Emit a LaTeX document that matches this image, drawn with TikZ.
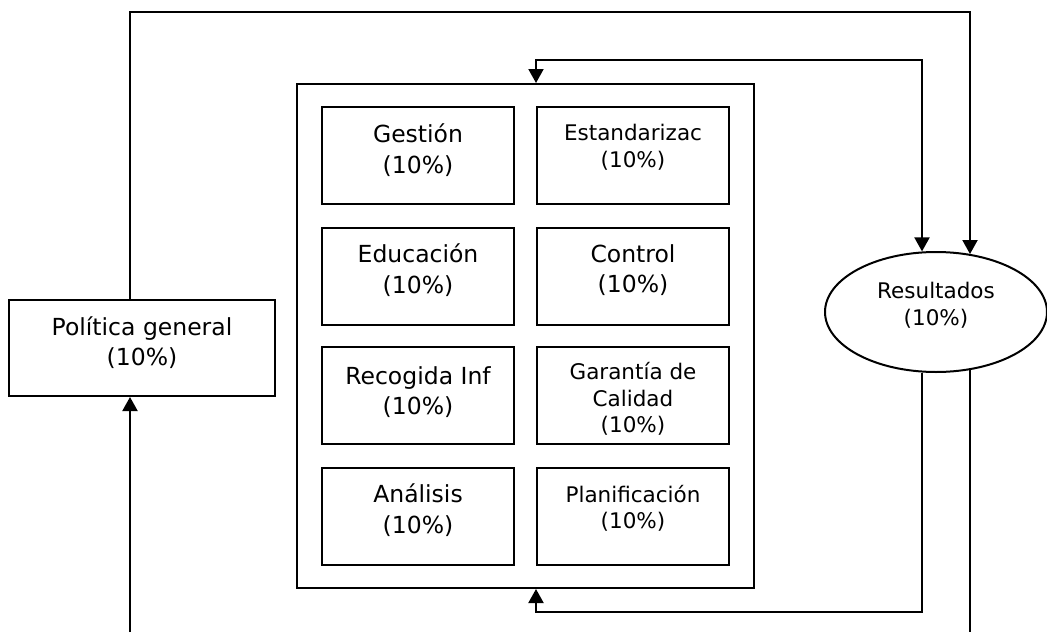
\documentclass[tikz,border=0pt]{standalone}
\usepackage{fontspec}
\setmainfont{DejaVu Sans}
\usetikzlibrary{shapes.geometric,arrows.meta}
\tikzset{
  box/.style={draw, minimum width=192pt, minimum height=97pt, inner sep=0pt},
  txt/.style={align=center, font=\fontsize{23.5}{30.5}\selectfont},
  smalltxt/.style={align=center, font=\fontsize{21.5}{26.5}\selectfont},
}
\begin{document}
\begin{tikzpicture}[x=1pt, y=-1pt, line width=2pt, >={Triangle[length=14pt,width=15pt]}]
\useasboundingbox (0,0) rectangle (1047,632);
% big frame round the eight boxes
\node[draw, minimum width=457pt, minimum height=504pt] (frame) at (525.5,336) {};
\node[box, label={[txt, yshift=5.5pt]center:Gestión\\(10\%)}] (gest) at (418,155.5) {};
\node[box, label={[txt, yshift=6.5pt]center:Educación\\(10\%)}] (edu) at (418,276.5) {};
\node[box, label={[txt, yshift=3.5pt]center:Recogida Inf\\(10\%)}] (rec) at (418,395.5) {};
\node[box, label={[txt, yshift=6.5pt]center:Análisis\\(10\%)}] (anal) at (418,516.5) {};
\node[box, label={[smalltxt, yshift=8.5pt]center:Estandarizac\\(10\%)}] (est) at (633,155.5) {};
\node[box, label={[txt, yshift=6.5pt]center:Control\\(10\%)}] (ctrl) at (633,276.5) {};
\node[box, label={[smalltxt, yshift=-3.5pt]center:Garantía de\\Calidad\\(10\%)}] (gar) at (633,395.5) {};
\node[box, label={[smalltxt, yshift=8pt]center:Planificación\\(10\%)}] (plan) at (633,516.5) {};
% left and right
\node[draw, minimum width=266pt, minimum height=96pt, label={[txt, yshift=5.5pt]center:Política general\\(10\%)}] (pol) at (142,348) {};
\node[draw, ellipse, minimum width=222pt, minimum height=120pt, inner sep=0pt, label={[smalltxt, yshift=7pt]center:Resultados\\(10\%)}] (res) at (936,312) {};
% turning points and loose ends
\coordinate (topturn) at (970,12);
\coordinate (midturn) at (922,60);
\coordinate (lowturn) at (922,612);
\coordinate (endL) at (130,632);
\coordinate (endR) at (970,632);
\draw[->] ([xshift=-12pt]pol.north) |- (topturn) -- (topturn |- res.59);
\draw[<->] (frame.north -| est.west) |- (midturn) -- (midturn |- res.102);
\draw[->] (lowturn |- res.-102) -- (lowturn) -| (frame.south -| est.west);
\draw (endR |- res.-59) -- (endR);
\draw[->] (endL) -- ([xshift=-12pt]pol.south);
\end{tikzpicture}
\end{document}
